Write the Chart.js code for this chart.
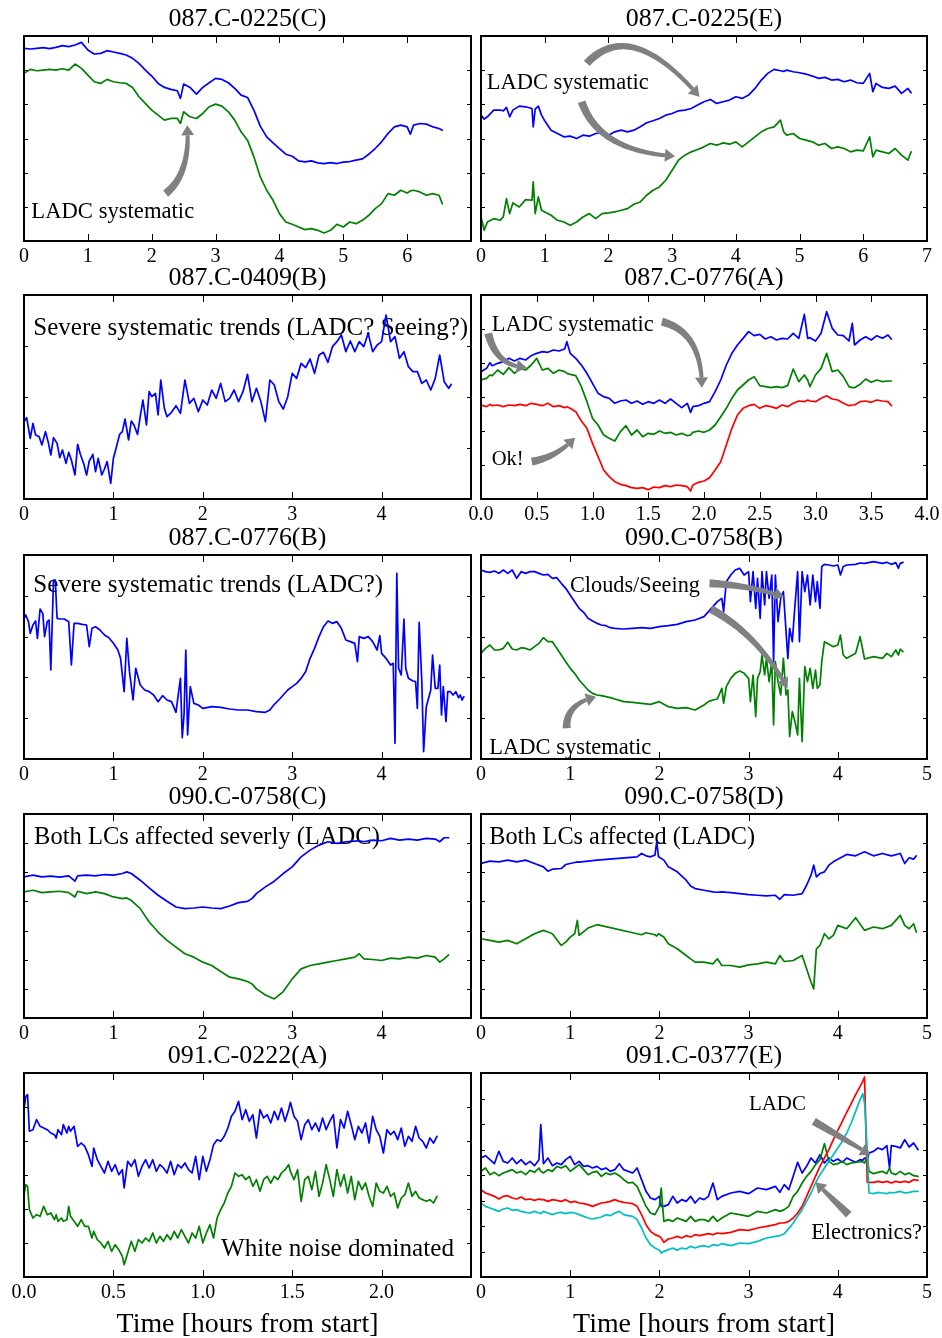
<!DOCTYPE html>
<html>
<head>
<meta charset="utf-8">
<script src="https://cdn.jsdelivr.net/npm/chart.js@4.4.1/dist/chart.umd.min.js"></script>
<style>
  html, body { margin: 0; padding: 0; background: #fff; }
  #page { position: relative; width: 942px; height: 1338px; overflow: hidden; background: #fff; }
  .pan { position: absolute; }
</style>
</head>
<body>
<div id="page"></div>
<script>
// Light curves (relative flux, arbitrary offsets) against time in hours from start.

// ---------- 087.C-0225(C) ----------
const p1_t = [0,0.1,0.2,0.3,0.4,0.5,0.6,0.7,0.8,0.9,
  1.0,1.1,1.2,1.3,1.4,1.5,1.6,1.7,1.8,1.9,
  2.0,2.1,2.2,2.3,2.4,2.45,2.5,2.6,2.7,2.8,2.9,
  3.0,3.1,3.2,3.3,3.4,3.5,3.6,3.7,3.8,3.9,
  4.0,4.1,4.2,4.3,4.4,4.5,4.6,4.7,4.8,4.9,
  5.0,5.1,5.2,5.3,5.4,5.5,5.6,5.7,5.8,5.9,
  6.0,6.05,6.1,6.2,6.3,6.4,6.5,6.55];
const p1_blue = [577,575,577,579,576,580,585,582,587,595,
  572,560,562,570,566,562,557,547,532,512,
  494,472,460,454,450,427,470,460,440,460,474,
  487,484,474,457,437,430,392,344,312,294,
  277,260,254,240,237,240,234,232,235,232,
  236,238,242,246,260,277,297,322,342,347,
  342,320,347,352,350,342,337,332];
const p1_green = [502,514,510,512,514,512,516,512,530,517,
  497,477,472,484,477,474,472,460,432,412,
  392,377,362,367,367,352,387,372,367,382,402,
  410,404,387,362,327,302,252,192,152,122,
  82,57,50,42,34,37,32,24,32,50,
  42,57,52,62,77,97,112,142,137,152,
  144,150,152,147,137,142,137,112];

// ---------- 087.C-0225(E) ----------
const p2_t = [0,0.05,0.1,0.2,0.3,0.35,0.4,0.45,0.5,0.6,0.7,0.8,0.82,0.85,0.9,0.95,
  1.0,1.1,1.2,1.3,1.4,1.5,1.6,1.7,1.8,1.9,
  2.0,2.1,2.2,2.3,2.4,2.5,2.6,2.7,2.8,2.9,
  3.0,3.1,3.2,3.3,3.4,3.5,3.6,3.7,3.8,3.9,
  4.0,4.1,4.2,4.3,4.4,4.5,4.6,4.7,4.75,4.8,4.9,
  5.0,5.1,5.2,5.3,5.4,5.5,5.6,5.7,5.8,5.9,
  6.0,6.1,6.15,6.2,6.3,6.4,6.5,6.6,6.7,6.75];
const p2_blue = [377,365,372,392,392,390,400,372,392,404,402,397,342,395,404,377,
  360,332,322,312,314,307,317,314,322,324,
  317,327,332,327,332,342,354,360,367,377,
  382,390,392,397,407,417,424,412,417,422,
  432,427,437,457,482,502,514,510,508,512,507,
  504,500,494,487,490,482,484,477,482,474,
  472,502,447,472,460,457,464,442,457,444];
const p2_green = [72,32,57,67,62,72,127,82,114,102,124,122,177,82,132,92,
  87,77,62,57,47,57,72,82,67,82,
  84,87,92,97,110,117,137,152,162,182,
  212,242,257,267,274,282,292,287,294,290,
  297,282,297,312,327,337,342,362,327,317,322,
  307,302,297,287,292,277,282,277,267,272,
  270,312,252,272,267,262,277,257,242,267];

// ---------- 087.C-0409(B) ----------
const p3_t = [0,0.03,0.07,0.1,0.13,0.17,0.2,0.24,0.27,0.3,0.33,0.37,0.4,0.43,0.47,0.5,0.53,0.57,0.6,0.63,0.67,0.7,0.73,0.77,0.8,0.83,0.87,0.9,0.93,0.97,
  1.0,1.03,1.07,1.1,1.13,1.17,1.2,1.23,1.27,1.3,1.33,1.37,1.4,1.43,1.47,1.5,1.53,1.57,1.6,1.65,1.7,1.75,1.8,1.85,1.9,1.95,
  2.0,2.05,2.1,2.15,2.2,2.25,2.3,2.35,2.4,2.45,2.5,2.55,2.6,2.65,2.7,2.75,2.8,2.85,2.9,2.95,
  3.0,3.05,3.1,3.15,3.2,3.25,3.3,3.35,3.4,3.45,3.5,3.55,3.6,3.65,3.7,3.75,3.8,3.85,3.9,3.95,
  4.0,4.05,4.1,4.15,4.2,4.25,4.3,4.35,4.4,4.45,4.5,4.55,4.6,4.65,4.7,4.75,4.78];
const p3_blue = [232,244,182,227,192,187,162,202,172,132,184,167,124,147,107,140,117,72,164,134,104,72,114,134,82,122,72,90,112,47,
  122,152,194,202,240,177,234,222,194,247,297,222,322,307,317,252,357,272,247,260,280,257,357,287,302,262,
  297,282,327,302,347,292,302,327,292,322,374,292,332,292,232,357,342,292,270,307,
  377,362,407,394,420,377,432,440,410,457,472,492,442,474,442,472,457,497,442,462,
  472,552,472,487,422,442,397,382,382,347,357,327,362,432,352,332,344];

// ---------- 087.C-0776(A) ----------
const p4_t = [0,0.05,0.08,0.1,0.15,0.2,0.25,0.3,0.35,0.4,0.45,0.5,0.55,0.6,0.65,0.7,0.75,0.77,0.8,0.85,0.9,0.95,
  1.0,1.05,1.1,1.15,1.2,1.25,1.3,1.35,1.4,1.45,1.5,1.55,1.6,1.65,1.7,1.75,1.8,1.85,1.88,1.9,1.95,
  2.0,2.05,2.1,2.15,2.2,2.25,2.3,2.35,2.4,2.45,2.5,2.55,2.6,2.65,2.7,2.75,2.8,2.85,2.9,2.93,2.95,
  3.0,3.05,3.1,3.15,3.2,3.25,3.3,3.33,3.35,3.4,3.45,3.5,3.55,3.6,3.65,3.68];
const p4_blue = [382,392,409,400,407,412,422,414,422,417,430,437,442,440,447,444,450,472,437,422,402,377,
  347,317,307,302,287,294,297,287,294,284,292,287,297,287,300,287,274,287,260,277,280,
  287,292,322,357,402,437,462,482,502,490,494,480,487,477,482,480,497,482,554,482,484,
  474,497,562,512,492,490,474,527,462,477,487,477,490,482,492,480];
const p4_green = [357,362,372,370,387,374,394,377,392,387,402,422,387,392,377,387,382,377,374,370,337,292,
  242,222,192,182,174,202,220,192,207,187,197,194,204,197,200,192,197,190,192,200,204,
  200,207,222,247,272,302,327,342,357,367,340,337,334,337,334,340,390,352,372,357,337,
  372,392,437,382,387,367,337,334,334,344,360,350,357,352,354,354];
const p4_red = [282,277,284,280,282,277,282,280,284,280,287,284,280,287,277,280,274,277,272,262,234,212,
  167,127,87,67,52,44,40,34,32,34,28,36,34,40,37,42,40,37,24,42,50,
  54,64,87,112,162,212,252,272,280,284,272,280,277,272,282,277,287,294,292,297,294,
  292,302,310,300,297,287,280,282,282,292,294,290,297,294,292,280];

// ---------- 087.C-0776(B) ----------
const p5_t = [0,0.02,0.05,0.07,0.1,0.13,0.15,0.18,0.21,0.23,0.26,0.28,0.3,0.33,0.35,0.37,0.4,0.45,0.5,0.53,0.56,0.6,0.65,0.7,0.73,0.76,0.8,0.85,0.9,0.95,
  1.0,1.05,1.08,1.12,1.15,1.18,1.22,1.25,1.3,1.35,1.4,1.45,1.5,1.55,1.6,1.65,1.7,1.72,1.75,1.77,1.79,1.81,1.83,1.86,1.9,1.95,
  2.0,2.1,2.2,2.3,2.4,2.5,2.6,2.7,2.75,2.8,2.85,2.9,2.95,
  3.0,3.05,3.1,3.15,3.2,3.25,3.3,3.35,3.4,3.45,3.5,3.55,3.6,3.65,3.7,3.73,3.75,3.8,3.85,3.9,3.95,3.98,
  4.0,4.05,4.1,4.13,4.15,4.17,4.19,4.22,4.25,4.27,4.3,4.35,4.38,4.4,4.42,4.45,4.47,4.5,4.55,4.57,4.6,4.63,4.65,4.67,4.69,4.72,4.74,4.77,4.8,4.83,4.86,4.88,4.9,4.92];
const p5_blue = [422,432,412,377,402,414,362,450,437,367,412,417,267,537,537,422,420,420,412,282,407,407,404,402,337,392,397,387,372,364,
  347,327,302,202,362,262,177,272,222,207,202,192,172,190,177,172,140,182,242,64,132,327,72,217,167,162,
  152,157,155,150,147,147,142,140,147,164,177,192,207,
  217,227,242,262,302,332,367,397,414,407,412,392,357,352,347,292,367,362,367,352,327,370,
  317,302,282,287,47,557,272,252,420,272,242,234,232,152,410,232,22,157,207,312,212,212,282,132,217,112,202,202,192,202,184,192,177,187];

// ---------- 090.C-0758(B) ----------
const p6_t = [0,0.05,0.1,0.15,0.2,0.25,0.3,0.35,0.4,0.45,0.5,0.55,0.6,0.65,0.7,0.75,0.8,0.85,0.9,0.95,
  1.0,1.05,1.1,1.15,1.2,1.25,1.3,1.35,1.4,1.45,1.5,1.6,1.7,1.8,1.9,
  2.0,2.1,2.2,2.3,2.4,2.5,2.55,2.6,2.65,2.7,2.72,2.75,2.8,2.85,2.9,2.95,
  3.0,3.02,3.05,3.08,3.1,3.13,3.15,3.18,3.2,3.23,3.26,3.28,3.3,3.33,3.36,3.39,3.42,3.44,3.46,3.49,3.52,3.55,3.57,3.6,3.63,3.66,3.69,3.72,3.75,3.77,3.8,3.82,3.85,3.9,3.95,
  4.0,4.03,4.06,4.1,4.2,4.25,4.3,4.4,4.5,4.55,4.6,4.65,4.68,4.7,4.73];
const p6_blue = [567,562,560,564,557,567,557,567,542,562,557,562,562,557,552,554,542,544,527,512,
  492,472,452,440,422,414,407,402,400,394,392,390,392,394,392,
  397,400,404,412,417,427,442,457,472,482,442,532,552,567,572,552,
  562,472,562,452,542,422,562,462,562,482,552,292,552,412,482,502,382,302,392,352,462,562,352,562,502,552,462,552,472,532,452,577,584,582,579,
  582,552,577,582,584,588,587,592,587,590,584,589,572,587,590];
const p6_green = [317,332,342,327,327,332,350,330,327,334,332,327,337,347,364,352,352,332,312,292,
  272,257,237,222,207,197,192,190,187,184,180,172,170,167,164,
  172,157,152,154,147,162,172,177,180,212,167,217,242,257,264,257,
  242,172,252,127,242,262,312,252,302,232,292,102,292,232,192,302,192,207,67,142,112,72,242,52,277,232,272,212,267,212,222,292,352,344,337,
  342,372,312,302,317,367,300,307,302,317,307,327,312,330,322];

// ---------- 090.C-0758(C) ----------
const p7_t = [0,0.1,0.2,0.3,0.4,0.5,0.57,0.6,0.7,0.8,0.9,
  1.0,1.1,1.15,1.2,1.3,1.4,1.5,1.6,1.7,1.8,1.9,
  2.0,2.1,2.2,2.3,2.4,2.5,2.55,2.6,2.7,2.8,2.9,
  3.0,3.05,3.1,3.2,3.3,3.4,3.5,3.6,3.7,3.75,3.8,3.9,
  4.0,4.1,4.2,4.3,4.4,4.5,4.6,4.65,4.7,4.75];
const p7_blue = [422,427,422,424,421,425,409,425,427,425,429,
  427,432,437,432,412,389,367,349,332,327,329,
  332,329,327,335,345,349,357,372,392,409,432,
  452,467,482,502,517,527,522,527,529,530,527,532,
  530,537,532,535,532,537,535,527,539,539];
const p7_green = [377,382,375,377,379,375,362,379,372,377,372,
  362,357,359,352,327,287,257,232,212,192,182,
  167,157,139,122,117,109,102,87,69,57,79,
  117,132,147,157,162,167,172,177,182,192,177,175,
  172,179,177,182,179,187,182,167,177,189];

// ---------- 090.C-0758(D) ----------
const p8_t = [0,0.1,0.2,0.3,0.4,0.5,0.6,0.7,0.75,0.8,0.9,0.95,
  1.0,1.05,1.08,1.1,1.2,1.3,1.75,1.8,1.85,1.9,1.95,1.97,1.99,
  2.05,2.1,2.2,2.3,2.35,2.4,2.5,2.6,2.65,2.7,2.8,2.9,
  3.0,3.1,3.2,3.3,3.35,3.4,3.5,3.6,3.65,3.7,3.73,3.76,3.8,3.85,3.9,3.95,
  4.0,4.1,4.2,4.3,4.4,4.5,4.6,4.7,4.75,4.8,4.85,4.88];
const p8_blue = [462,469,467,472,467,472,462,452,439,445,447,459,
  462,465,467,466,469,472,482,492,485,482,487,527,482,
  472,452,437,412,395,387,382,377,376,377,375,372,
  369,367,365,367,355,369,367,372,397,427,457,422,432,437,457,467,
  475,489,485,497,485,492,485,492,462,479,475,485];
const p8_green = [237,232,227,232,222,237,252,262,257,252,217,227,
  242,252,292,247,269,279,252,249,255,252,249,245,252,
  242,222,207,187,177,167,167,162,177,157,157,152,
  159,162,167,162,187,169,172,187,147,107,87,207,217,252,237,247,
  277,267,300,262,272,267,277,307,277,267,282,257];

// ---------- 091.C-0222(A) ----------
const p9_t = [0,0.01,0.02,0.03,0.05,0.07,0.09,0.11,0.13,0.15,0.17,0.18,0.19,0.21,0.22,0.24,0.25,0.26,0.28,
  0.3,0.32,0.34,0.36,0.38,0.39,0.41,0.43,0.45,0.47,0.49,0.51,0.53,0.55,0.56,0.58,
  0.6,0.62,0.64,0.66,0.68,0.7,0.72,0.74,0.76,0.78,0.8,0.82,0.84,0.86,0.88,0.9,0.92,0.94,0.96,0.98,
  1.0,1.02,1.04,1.06,1.08,1.1,1.12,1.14,1.16,1.18,1.2,1.22,1.24,1.26,1.28,1.3,1.32,1.34,1.36,1.38,1.4,1.42,1.44,1.46,1.48,1.49,
  1.51,1.53,1.55,1.57,1.59,1.61,1.63,1.65,1.67,1.69,1.71,1.73,1.75,1.77,1.79,1.81,1.83,1.85,1.87,1.89,1.91,1.93,1.95,1.97,1.99,
  2.01,2.03,2.05,2.07,2.09,2.11,2.13,2.15,2.17,2.19,2.21,2.23,2.25,2.27,2.29,2.31];
const p9_blue = [502,542,547,437,442,472,452,447,442,432,427,417,442,427,457,432,452,437,452,
  392,402,392,367,332,387,352,332,312,347,317,337,307,322,267,347,
  332,352,302,332,352,327,352,317,337,327,312,347,307,337,327,342,322,312,362,292,
  362,317,352,397,412,407,422,447,482,497,527,472,502,467,487,417,502,477,487,462,497,472,507,467,502,524,
  482,467,412,457,472,442,462,437,477,442,467,487,387,472,447,497,457,412,452,432,462,402,482,442,422,
  372,442,427,437,412,447,392,422,407,452,417,407,387,417,402,422];
const p9_green = [247,277,272,202,177,187,182,212,187,192,172,187,167,177,167,172,212,182,167,
  152,172,152,152,117,137,112,102,87,107,77,97,82,62,37,72,
  107,77,112,102,117,107,132,102,122,107,127,112,137,117,142,122,102,132,117,152,
  102,132,157,117,177,202,222,252,272,312,302,307,292,302,272,292,257,292,302,282,302,292,312,322,337,317,
  292,322,227,292,302,262,317,242,282,337,292,242,322,272,307,252,302,232,287,262,282,242,212,282,257,
  252,272,242,252,207,237,247,282,242,257,237,232,227,232,222,242];

// ---------- 091.C-0377(E) ----------
const p10_t = [0,0.05,0.1,0.15,0.2,0.25,0.3,0.35,0.4,0.45,0.5,0.55,0.6,0.65,0.67,0.7,0.75,0.8,0.85,0.9,0.95,
  1.0,1.05,1.1,1.15,1.2,1.25,1.3,1.35,1.4,1.45,1.5,1.55,1.6,1.65,1.7,1.75,1.8,1.85,1.9,1.95,
  2.0,2.02,2.05,2.1,2.15,2.2,2.25,2.3,2.35,2.4,2.45,2.5,2.55,2.6,2.65,2.7,2.8,2.9,
  3.0,3.1,3.2,3.3,3.35,3.4,3.45,3.5,3.55,3.6,3.65,3.7,3.75,3.8,3.85,3.9,3.95,
  4.0,4.05,4.1,4.15,4.2,4.25,4.28,4.3,4.33,4.35,4.4,4.45,4.5,4.55,4.58,4.6,4.65,4.7,4.75,4.8,4.85,4.9];
const p10_blue = [357,364,352,340,377,347,342,357,340,352,337,347,334,352,457,340,357,334,342,337,352,
  362,337,347,332,334,327,332,322,327,317,322,340,322,317,312,327,292,257,237,232,
  242,212,212,217,242,222,232,227,242,222,237,232,242,282,232,242,252,257,
  250,267,262,272,254,277,262,302,344,312,332,357,342,367,342,357,347,
  354,344,357,350,344,352,350,357,352,372,377,387,382,394,327,394,392,387,412,390,402,382];
const p10_green = [317,327,307,314,304,312,317,322,312,317,307,320,314,327,317,312,322,317,332,327,334,
  317,327,337,322,307,314,317,302,312,307,312,304,292,282,284,272,242,212,192,187,
  212,267,167,172,167,177,172,167,182,167,172,172,167,182,167,177,192,187,
  182,197,192,202,197,202,212,242,257,282,302,317,337,352,400,347,337,
  340,347,337,342,344,347,345,342,362,317,310,314,317,310,327,312,307,317,307,312,304,302];
const p10_red = [262,252,247,242,234,242,244,237,234,240,232,234,230,234,232,232,227,232,230,227,232,
  224,227,222,220,217,212,217,222,224,227,232,227,224,222,220,212,187,157,137,127,
  122,117,104,114,117,122,117,124,120,127,124,127,130,127,132,130,134,142,
  140,147,152,157,162,162,167,177,192,212,242,272,302,332,357,382,412,
  440,467,494,520,547,572,587,600,284,284,284,287,284,287,284,282,287,284,287,284,292,290];
const p10_cyan = [222,212,207,202,197,204,207,200,202,197,194,192,197,192,190,197,192,187,192,194,190,
  194,192,187,182,177,174,177,180,187,184,192,197,187,184,182,172,147,117,97,87,
  80,72,77,82,87,80,87,84,92,87,92,94,90,97,94,100,94,102,
  100,107,117,122,124,130,145,162,182,202,227,252,282,307,327,347,367,
  387,407,432,462,497,532,550,522,382,252,250,254,252,250,254,252,254,257,252,254,257,257];

const titles = ['087.C-0225(C)', '087.C-0225(E)', '087.C-0409(B)', '087.C-0776(A)', '087.C-0776(B)',
  '090.C-0758(B)', '090.C-0758(C)', '090.C-0758(D)', '091.C-0222(A)', '091.C-0377(E)'];
const xLabel = 'Time [hours from start]';

const BLUE = '#0000ff', GREEN = '#008000', RED = '#ff0000', CYAN = '#00bfbf';
const ARROW = '#808080';
const FAMILY = '"Liberation Serif", "Times New Roman", serif';

// ---------- panel descriptions ----------
const panels = [
  { col: 0, row: 0, xMax: 7, xStep: 1, dec: 0, lastLabel: false, yTicks: 6,
    series: [[p1_t, p1_blue, BLUE], [p1_t, p1_green, GREEN]],
    notes: [{ text: 'LADC systematic', x: 0.115, y: 91, w: 163 }],
    arrows: [{ from: [2.218, 142], via: [2.61, 202], to: [2.557, 347] }] },
  { col: 1, row: 0, xMax: 7, xStep: 1, dec: 0, lastLabel: true, yTicks: 6,
    series: [[p2_t, p2_blue, BLUE], [p2_t, p2_green, GREEN]],
    notes: [{ text: 'LADC systematic', x: 0.089, y: 478.5, w: 162 }],
    arrows: [{ from: [1.66, 532], via: [2.345, 672], to: [3.429, 432] },
             { from: [1.581, 417], via: [1.843, 268.5], to: [3.047, 254] }] },
  { col: 0, row: 1, xMax: 5, xStep: 1, dec: 0, lastLabel: false, yTicks: 4,
    series: [[p3_t, p3_blue, BLUE]],
    notes: [{ text: 'Severe systematic trends (LADC? Seeing?)', x: 0.104, y: 518, w: 435 }],
    arrows: [] },
  { col: 1, row: 1, xMax: 4, xStep: 0.5, dec: 1, lastLabel: true, yTicks: 6,
    series: [[p4_t, p4_blue, BLUE], [p4_t, p4_green, GREEN], [p4_t, p4_red, RED]],
    notes: [{ text: 'LADC systematic', x: 0.096, y: 525.5, w: 162 },
            { text: 'Ok!', x: 0.096, y: 121, w: 32 }],
    arrows: [{ from: [0.066, 497], via: [0.133, 398.5], to: [0.41, 394] },
             { from: [1.622, 532], via: [1.981, 501], to: [1.981, 334] },
             { from: [0.455, 112], via: [0.679, 126], to: [0.844, 184] }] },
  { col: 0, row: 2, xMax: 5, xStep: 1, dec: 0, lastLabel: false, yTicks: 5,
    series: [[p5_t, p5_blue, BLUE]],
    notes: [{ text: 'Severe systematic trends (LADC?)', x: 0.104, y: 524.5, w: 350 }],
    arrows: [] },
  { col: 1, row: 2, xMax: 5, xStep: 1, dec: 0, lastLabel: true, yTicks: 5,
    series: [[p6_t, p6_blue, BLUE], [p6_t, p6_green, GREEN]],
    notes: [{ text: 'Clouds/Seeing', x: 0.998, y: 524.5, w: 130 },
            { text: 'LADC systematic', x: 0.093, y: 38.5, w: 162 }],
    arrows: [{ from: [2.562, 527], via: [2.981, 522], to: [3.399, 487] },
             { from: [2.577, 450], via: [3.104, 373], to: [3.437, 212] },
             { from: [0.961, 92], via: [0.946, 164.5], to: [1.29, 187] }] },
  { col: 0, row: 3, xMax: 5, xStep: 1, dec: 0, lastLabel: false, yTicks: 7,
    series: [[p7_t, p7_blue, BLUE], [p7_t, p7_green, GREEN]],
    notes: [{ text: 'Both LCs affected severly (LADC)', x: 0.112, y: 545.5, w: 346 }],
    arrows: [] },
  { col: 1, row: 3, xMax: 5, xStep: 1, dec: 0, lastLabel: true, yTicks: 7,
    series: [[p8_t, p8_blue, BLUE], [p8_t, p8_green, GREEN]],
    notes: [{ text: 'Both LCs affected (LADC)', x: 0.093, y: 545.5, w: 266 }],
    arrows: [] },
  { col: 0, row: 4, xMax: 2.5, xStep: 0.5, dec: 1, lastLabel: false, yTicks: 6,
    series: [[p9_t, p9_blue, BLUE], [p9_t, p9_green, GREEN]],
    notes: [{ text: 'White noise dominated', x: 1.102, y: 88, w: 233 }],
    arrows: [] },
  { col: 1, row: 4, xMax: 5, xStep: 1, dec: 0, lastLabel: true, yTicks: 8,
    series: [[p10_t, p10_blue, BLUE], [p10_t, p10_green, GREEN], [p10_t, p10_red, RED], [p10_t, p10_cyan, CYAN]],
    notes: [{ text: 'LADC', x: 3.004, y: 521, w: 57 },
            { text: 'Electronics?', x: 3.701, y: 135.5, w: 111 }],
    arrows: [{ from: [3.731, 467], via: [4.049, 417], to: [4.366, 367] },
             { from: [4.123, 187], via: [3.937, 235], to: [3.75, 284] }] }
];

// ---------- layout of the grid ----------
const COL_L = [24, 481], COL_W = [447, 446];
const ROW_T = [36, 295, 555, 814, 1073], ROW_H = [205, 204, 204, 204, 204];
const ROW_YMAX = [614, 612, 612, 610, 612];
const PAD_L = 22, PAD_R = 22, PAD_T = 36;
const TITLE_W = 158;

function xy(t, v) { return t.map((x, i) => ({ x: x, y: v[i] })); }

function fitSize(ctx, text, width) {
  ctx.font = '100px ' + FAMILY;
  return 100 * width / ctx.measureText(text).width;
}

function drawArrow(ctx, p0, c, p2) {
  const headLen = 10, headW = 13, w0 = 8, w1 = 4;
  const q = t => [(1 - t) * (1 - t) * p0[0] + 2 * (1 - t) * t * c[0] + t * t * p2[0],
                  (1 - t) * (1 - t) * p0[1] + 2 * (1 - t) * t * c[1] + t * t * p2[1]];
  let tEnd = 1;
  for (let t = 1; t > 0; t -= 0.002) {
    const p = q(t);
    if (Math.hypot(p[0] - p2[0], p[1] - p2[1]) >= headLen) { tEnd = t; break; }
  }
  const N = 40, left = [], right = [];
  for (let i = 0; i <= N; i++) {
    const t = tEnd * i / N, p = q(t);
    let dx = 2 * (1 - t) * (c[0] - p0[0]) + 2 * t * (p2[0] - c[0]);
    let dy = 2 * (1 - t) * (c[1] - p0[1]) + 2 * t * (p2[1] - c[1]);
    const len = Math.hypot(dx, dy) || 1; dx /= len; dy /= len;
    const w = (w0 + (w1 - w0) * i / N) / 2;
    left.push([p[0] - dy * w, p[1] + dx * w]);
    right.push([p[0] + dy * w, p[1] - dx * w]);
  }
  ctx.save();
  ctx.fillStyle = ARROW;
  ctx.beginPath();
  left.forEach((p, i) => i ? ctx.lineTo(p[0], p[1]) : ctx.moveTo(p[0], p[1]));
  for (let i = right.length - 1; i >= 0; i--) ctx.lineTo(right[i][0], right[i][1]);
  ctx.closePath();
  ctx.fill();
  const b = q(tEnd);
  let hx = p2[0] - b[0], hy = p2[1] - b[1];
  const hl = Math.hypot(hx, hy) || 1; hx /= hl; hy /= hl;
  ctx.beginPath();
  ctx.moveTo(b[0] - hy * headW / 2, b[1] + hx * headW / 2);
  ctx.lineTo(p2[0], p2[1]);
  ctx.lineTo(b[0] + hy * headW / 2, b[1] - hx * headW / 2);
  ctx.closePath();
  ctx.fill();
  ctx.restore();
}

function decorations(p, title, bottomRow) {
  return {
    id: 'decorations',
    beforeDatasetsDraw(chart) {
      const ctx = chart.ctx, xs = chart.scales.x, ys = chart.scales.y;
      ctx.save();
      ctx.fillStyle = '#000';
      ctx.textAlign = 'left';
      ctx.textBaseline = 'alphabetic';
      p.notes.forEach(n => {
        const s = fitSize(ctx, n.text, n.w);
        ctx.font = s + 'px ' + FAMILY;
        ctx.fillText(n.text, xs.getPixelForValue(n.x), ys.getPixelForValue(n.y) + 0.331 * s);
      });
      ctx.restore();
    },
    afterDatasetsDraw(chart) {
      const ctx = chart.ctx, xs = chart.scales.x, ys = chart.scales.y, a = chart.chartArea;
      p.arrows.forEach(ar => {
        drawArrow(ctx,
          [xs.getPixelForValue(ar.from[0]), ys.getPixelForValue(ar.from[1])],
          [xs.getPixelForValue(ar.via[0]), ys.getPixelForValue(ar.via[1])],
          [xs.getPixelForValue(ar.to[0]), ys.getPixelForValue(ar.to[1])]);
      });
      ctx.save();
      // inward tick marks on all four sides
      ctx.strokeStyle = '#000';
      ctx.lineWidth = 1;
      ctx.beginPath();
      xs.ticks.forEach(tk => {
        const px = Math.round(xs.getPixelForValue(tk.value)) + 0.5;
        ctx.moveTo(px, a.bottom); ctx.lineTo(px, a.bottom - 7);
        ctx.moveTo(px, a.top); ctx.lineTo(px, a.top + 7);
      });
      ys.ticks.forEach(tk => {
        const py = Math.round(ys.getPixelForValue(tk.value)) + 0.5;
        ctx.moveTo(a.left, py); ctx.lineTo(a.left + 4, py);
        ctx.moveTo(a.right, py); ctx.lineTo(a.right - 4, py);
      });
      ctx.stroke();
      // frame
      ctx.lineWidth = 2;
      ctx.strokeRect(a.left, a.top, a.right - a.left, a.bottom - a.top);
      // title, all panels share one size
      ctx.fillStyle = '#000';
      ctx.textAlign = 'center';
      ctx.textBaseline = 'alphabetic';
      const ts = fitSize(ctx, titles[0], TITLE_W);
      ctx.font = ts + 'px ' + FAMILY;
      const cx = (a.left + a.right) / 2;
      ctx.fillText(title, cx, a.top - 9.8);
      if (bottomRow) {
        const s = fitSize(ctx, xLabel, 262);
        ctx.font = s + 'px ' + FAMILY;
        ctx.fillText(xLabel, cx, a.bottom + 46 + 0.331 * s);
      }
      ctx.restore();
    }
  };
}

const page = document.getElementById('page');
panels.forEach((p, k) => {
  const L = COL_L[p.col], W = COL_W[p.col], T = ROW_T[p.row], H = ROW_H[p.row];
  const bottomRow = p.row === 4;
  const axisH = bottomRow ? 72 : 32;
  const cw = W + PAD_L + PAD_R, ch = PAD_T + H + axisH;
  const holder = document.createElement('div');
  holder.className = 'pan';
  holder.style.left = (L - PAD_L) + 'px';
  holder.style.top = (T - PAD_T) + 'px';
  holder.style.width = cw + 'px';
  holder.style.height = ch + 'px';
  const cv = document.createElement('canvas');
  cv.width = cw; cv.height = ch;
  cv.style.width = cw + 'px'; cv.style.height = ch + 'px';
  holder.appendChild(cv);
  page.appendChild(holder);

  // later series sit on top, so hand them to the chart first
  const datasets = p.series.slice().reverse().map(s => ({
    data: xy(s[0], s[1]),
    borderColor: s[2],
    borderWidth: 1.7,
    pointRadius: 0,
    tension: 0,
    fill: false,
    borderJoinStyle: 'round',
    borderCapStyle: 'round'
  }));

  new Chart(cv, {
    type: 'line',
    data: { datasets: datasets },
    options: {
      responsive: false,
      animation: false,
      devicePixelRatio: 1,
      events: [],
      layout: { padding: { left: PAD_L, right: PAD_R, top: PAD_T, bottom: 0 } },
      plugins: { legend: { display: false }, tooltip: { enabled: false }, title: { display: false } },
      scales: {
        x: {
          type: 'linear', min: 0, max: p.xMax,
          grid: { display: false, drawTicks: false },
          border: { display: false },
          ticks: {
            stepSize: p.xStep, autoSkip: false, maxRotation: 0, padding: 4, color: '#000',
            font: { family: FAMILY, size: 20 },
            callback: v => (Math.abs(v - p.xMax) < 1e-9 && !p.lastLabel) ? '' : (p.dec ? Number(v).toFixed(p.dec) : String(v))
          },
          afterFit: s => { s.height = axisH; }
        },
        y: {
          min: 0, max: ROW_YMAX[p.row],
          grid: { display: false, drawTicks: false },
          border: { display: false },
          ticks: { display: false, count: p.yTicks + 1 },
          afterFit: s => { s.width = 0; }
        }
      }
    },
    plugins: [decorations(p, titles[k], bottomRow)]
  });
});
</script>
</body>
</html>
